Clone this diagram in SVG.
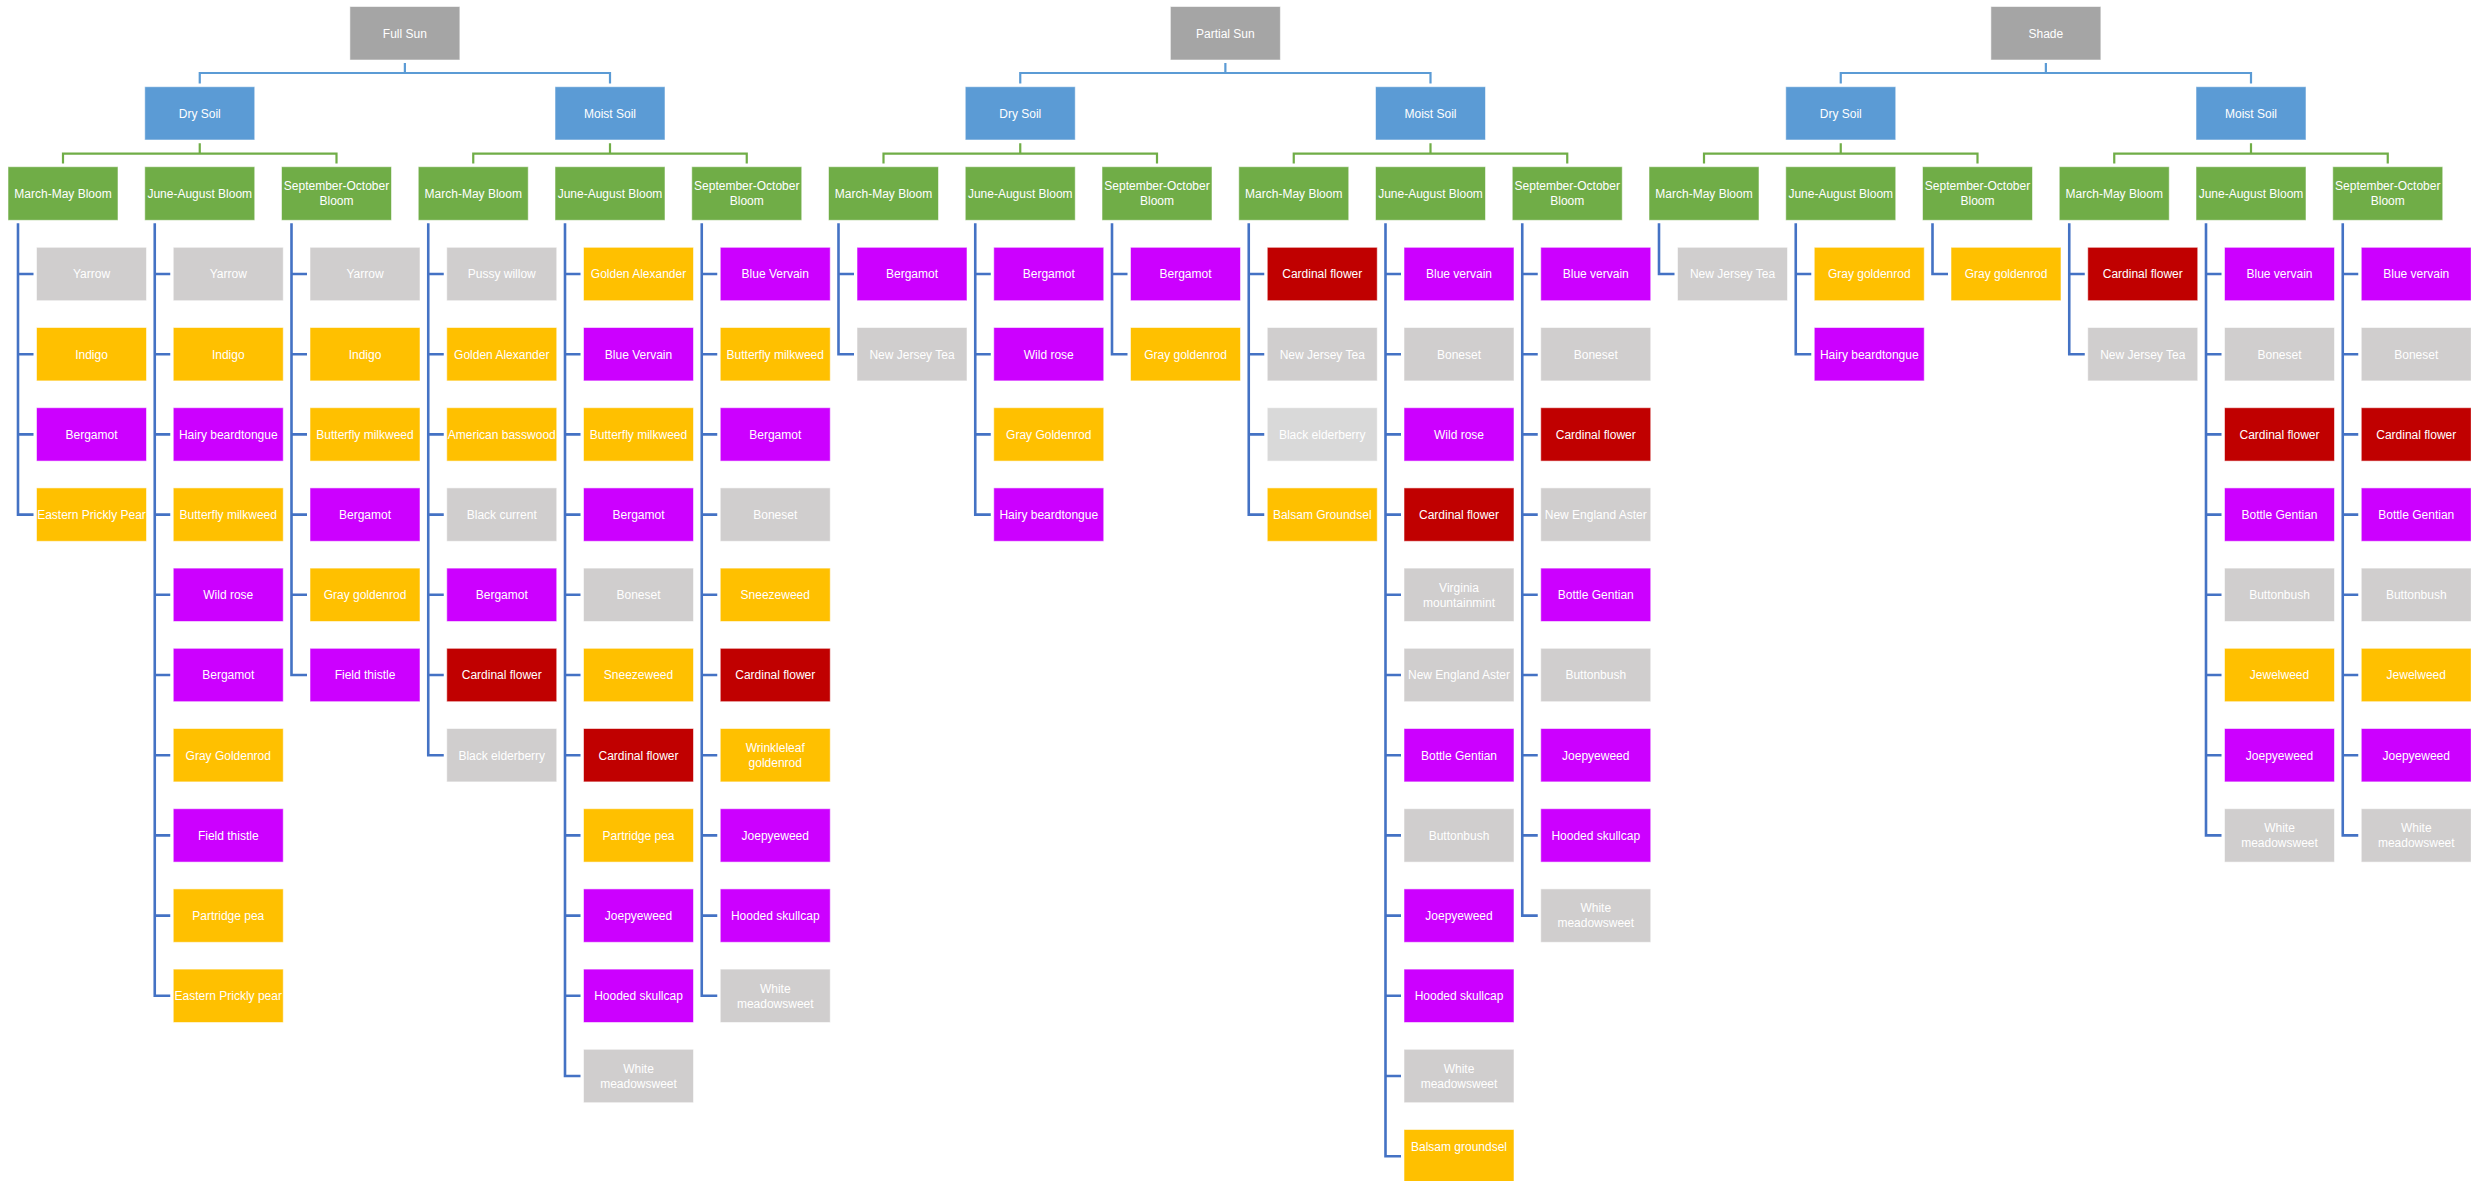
<svg xmlns="http://www.w3.org/2000/svg" width="2471" height="1181" viewBox="0 0 2471 1181">
<style>
rect{stroke:#ffffff;stroke-opacity:.55;stroke-width:1}
text{font-family:"Liberation Sans",Arial,sans-serif;font-size:12px;fill:#ffffff;text-anchor:middle}
.top{fill:#A5A5A5}.soil{fill:#5B9BD5}.bloom{fill:#70AD47}
.g{fill:#D0CECE}.lg{fill:#D9D9D9}.y{fill:#FFC000}.p{fill:#CC00FF}.r{fill:#C00000}
.c1{fill:none;stroke:#5B9BD5;stroke-width:2.2}
.c2{fill:none;stroke:#70AD47;stroke-width:2.2}
.c3{fill:none;stroke:#4472C4;stroke-width:2.6}
</style>
<rect width="2471" height="1181" fill="#ffffff" stroke="none"/>
<g id="connectors">
<path class="c1" d="M404.875,63V73M199.75,83.5V73H610V83.5"/>
<path class="c1" d="M1225.375,63V73M1020.25,83.5V73H1430.5V83.5"/>
<path class="c1" d="M2045.875,63V73M1840.75,83.5V73H2251V83.5"/>
<path class="c2" d="M199.75,143.3V153.7M63,163.5V153.7H336.5V163.5"/>
<path class="c2" d="M610,143.3V153.7M473.25,163.5V153.7H746.75V163.5"/>
<path class="c2" d="M1020.25,143.3V153.7M883.5,163.5V153.7H1157V163.5"/>
<path class="c2" d="M1430.5,143.3V153.7M1293.75,163.5V153.7H1567.25V163.5"/>
<path class="c2" d="M1840.75,143.3V153.7M1704,163.5V153.7H1977.5V163.5"/>
<path class="c2" d="M2251,143.3V153.7M2114.25,163.5V153.7H2387.75V163.5"/>
<path class="c3" d="M18,223.3V514.6h15.5M18,274h15.5M18,354.2h15.5M18,434.4h15.5"/>
<path class="c3" d="M154.75,223.3V995.8h15.5M154.75,274h15.5M154.75,354.2h15.5M154.75,434.4h15.5M154.75,514.6h15.5M154.75,594.8h15.5M154.75,675h15.5M154.75,755.2h15.5M154.75,835.4h15.5M154.75,915.6h15.5"/>
<path class="c3" d="M291.5,223.3V675h15.5M291.5,274h15.5M291.5,354.2h15.5M291.5,434.4h15.5M291.5,514.6h15.5M291.5,594.8h15.5"/>
<path class="c3" d="M428.25,223.3V755.2h15.5M428.25,274h15.5M428.25,354.2h15.5M428.25,434.4h15.5M428.25,514.6h15.5M428.25,594.8h15.5M428.25,675h15.5"/>
<path class="c3" d="M565,223.3V1076h15.5M565,274h15.5M565,354.2h15.5M565,434.4h15.5M565,514.6h15.5M565,594.8h15.5M565,675h15.5M565,755.2h15.5M565,835.4h15.5M565,915.6h15.5M565,995.8h15.5"/>
<path class="c3" d="M701.75,223.3V995.8h15.5M701.75,274h15.5M701.75,354.2h15.5M701.75,434.4h15.5M701.75,514.6h15.5M701.75,594.8h15.5M701.75,675h15.5M701.75,755.2h15.5M701.75,835.4h15.5M701.75,915.6h15.5"/>
<path class="c3" d="M838.5,223.3V354.2h15.5M838.5,274h15.5"/>
<path class="c3" d="M975.25,223.3V514.6h15.5M975.25,274h15.5M975.25,354.2h15.5M975.25,434.4h15.5"/>
<path class="c3" d="M1112,223.3V354.2h15.5M1112,274h15.5"/>
<path class="c3" d="M1248.75,223.3V514.6h15.5M1248.75,274h15.5M1248.75,354.2h15.5M1248.75,434.4h15.5"/>
<path class="c3" d="M1385.5,223.3V1156.2h15.5M1385.5,274h15.5M1385.5,354.2h15.5M1385.5,434.4h15.5M1385.5,514.6h15.5M1385.5,594.8h15.5M1385.5,675h15.5M1385.5,755.2h15.5M1385.5,835.4h15.5M1385.5,915.6h15.5M1385.5,995.8h15.5M1385.5,1076h15.5"/>
<path class="c3" d="M1522.25,223.3V915.6h15.5M1522.25,274h15.5M1522.25,354.2h15.5M1522.25,434.4h15.5M1522.25,514.6h15.5M1522.25,594.8h15.5M1522.25,675h15.5M1522.25,755.2h15.5M1522.25,835.4h15.5"/>
<path class="c3" d="M1659,223.3V274h15.5"/>
<path class="c3" d="M1795.75,223.3V354.2h15.5M1795.75,274h15.5"/>
<path class="c3" d="M1932.5,223.3V274h15.5"/>
<path class="c3" d="M2069.25,223.3V354.2h15.5M2069.25,274h15.5"/>
<path class="c3" d="M2206,223.3V835.4h15.5M2206,274h15.5M2206,354.2h15.5M2206,434.4h15.5M2206,514.6h15.5M2206,594.8h15.5M2206,675h15.5M2206,755.2h15.5"/>
<path class="c3" d="M2342.75,223.3V835.4h15.5M2342.75,274h15.5M2342.75,354.2h15.5M2342.75,434.4h15.5M2342.75,514.6h15.5M2342.75,594.8h15.5M2342.75,675h15.5M2342.75,755.2h15.5"/>
</g>

<g id="full-sun" transform="translate(349.875,6.5)"><rect class="top" width="110" height="53.5"/><text x="55" y="31">Full Sun</text></g>
<g id="partial-sun" transform="translate(1170.375,6.5)"><rect class="top" width="110" height="53.5"/><text x="55" y="31">Partial Sun</text></g>
<g id="shade" transform="translate(1990.875,6.5)"><rect class="top" width="110" height="53.5"/><text x="55" y="31">Shade</text></g>

<g id="fs-dry" transform="translate(144.75,86.7)"><rect class="soil" width="110" height="53.3"/><text x="55" y="31">Dry Soil</text></g>
<g id="fs-moist" transform="translate(555,86.7)"><rect class="soil" width="110" height="53.3"/><text x="55" y="31">Moist Soil</text></g>
<g id="ps-dry" transform="translate(965.25,86.7)"><rect class="soil" width="110" height="53.3"/><text x="55" y="31">Dry Soil</text></g>
<g id="ps-moist" transform="translate(1375.5,86.7)"><rect class="soil" width="110" height="53.3"/><text x="55" y="31">Moist Soil</text></g>
<g id="sh-dry" transform="translate(1785.75,86.7)"><rect class="soil" width="110" height="53.3"/><text x="55" y="31">Dry Soil</text></g>
<g id="sh-moist" transform="translate(2196,86.7)"><rect class="soil" width="110" height="53.3"/><text x="55" y="31">Moist Soil</text></g>

<g id="b0" transform="translate(8,166.7)"><rect class="bloom" width="110" height="53.6"/><text x="55" y="31">March-May Bloom</text></g>
<g id="b1" transform="translate(144.75,166.7)"><rect class="bloom" width="110" height="53.6"/><text x="55" y="31">June-August Bloom</text></g>
<g id="b2" transform="translate(281.5,166.7)"><rect class="bloom" width="110" height="53.6"/><text x="55" y="23.5"><tspan x="55">September-October</tspan><tspan x="55" dy="15">Bloom</tspan></text></g>
<g id="b3" transform="translate(418.25,166.7)"><rect class="bloom" width="110" height="53.6"/><text x="55" y="31">March-May Bloom</text></g>
<g id="b4" transform="translate(555,166.7)"><rect class="bloom" width="110" height="53.6"/><text x="55" y="31">June-August Bloom</text></g>
<g id="b5" transform="translate(691.75,166.7)"><rect class="bloom" width="110" height="53.6"/><text x="55" y="23.5"><tspan x="55">September-October</tspan><tspan x="55" dy="15">Bloom</tspan></text></g>
<g id="b6" transform="translate(828.5,166.7)"><rect class="bloom" width="110" height="53.6"/><text x="55" y="31">March-May Bloom</text></g>
<g id="b7" transform="translate(965.25,166.7)"><rect class="bloom" width="110" height="53.6"/><text x="55" y="31">June-August Bloom</text></g>
<g id="b8" transform="translate(1102,166.7)"><rect class="bloom" width="110" height="53.6"/><text x="55" y="23.5"><tspan x="55">September-October</tspan><tspan x="55" dy="15">Bloom</tspan></text></g>
<g id="b9" transform="translate(1238.75,166.7)"><rect class="bloom" width="110" height="53.6"/><text x="55" y="31">March-May Bloom</text></g>
<g id="b10" transform="translate(1375.5,166.7)"><rect class="bloom" width="110" height="53.6"/><text x="55" y="31">June-August Bloom</text></g>
<g id="b11" transform="translate(1512.25,166.7)"><rect class="bloom" width="110" height="53.6"/><text x="55" y="23.5"><tspan x="55">September-October</tspan><tspan x="55" dy="15">Bloom</tspan></text></g>
<g id="b12" transform="translate(1649,166.7)"><rect class="bloom" width="110" height="53.6"/><text x="55" y="31">March-May Bloom</text></g>
<g id="b13" transform="translate(1785.75,166.7)"><rect class="bloom" width="110" height="53.6"/><text x="55" y="31">June-August Bloom</text></g>
<g id="b14" transform="translate(1922.5,166.7)"><rect class="bloom" width="110" height="53.6"/><text x="55" y="23.5"><tspan x="55">September-October</tspan><tspan x="55" dy="15">Bloom</tspan></text></g>
<g id="b15" transform="translate(2059.25,166.7)"><rect class="bloom" width="110" height="53.6"/><text x="55" y="31">March-May Bloom</text></g>
<g id="b16" transform="translate(2196,166.7)"><rect class="bloom" width="110" height="53.6"/><text x="55" y="31">June-August Bloom</text></g>
<g id="b17" transform="translate(2332.75,166.7)"><rect class="bloom" width="110" height="53.6"/><text x="55" y="23.5"><tspan x="55">September-October</tspan><tspan x="55" dy="15">Bloom</tspan></text></g>

<!-- column 0 -->
<g id="c0-0" transform="translate(36.5,247.3)"><rect class="g" width="110" height="53.4"/><text x="55" y="31">Yarrow</text></g>
<g id="c0-1" transform="translate(36.5,327.5)"><rect class="y" width="110" height="53.4"/><text x="55" y="31">Indigo</text></g>
<g id="c0-2" transform="translate(36.5,407.7)"><rect class="p" width="110" height="53.4"/><text x="55" y="31">Bergamot</text></g>
<g id="c0-3" transform="translate(36.5,487.9)"><rect class="y" width="110" height="53.4"/><text x="55" y="31">Eastern Prickly Pear</text></g>
<!-- column 1 -->
<g id="c1-0" transform="translate(173.25,247.3)"><rect class="g" width="110" height="53.4"/><text x="55" y="31">Yarrow</text></g>
<g id="c1-1" transform="translate(173.25,327.5)"><rect class="y" width="110" height="53.4"/><text x="55" y="31">Indigo</text></g>
<g id="c1-2" transform="translate(173.25,407.7)"><rect class="p" width="110" height="53.4"/><text x="55" y="31">Hairy beardtongue</text></g>
<g id="c1-3" transform="translate(173.25,487.9)"><rect class="y" width="110" height="53.4"/><text x="55" y="31">Butterfly milkweed</text></g>
<g id="c1-4" transform="translate(173.25,568.1)"><rect class="p" width="110" height="53.4"/><text x="55" y="31">Wild rose</text></g>
<g id="c1-5" transform="translate(173.25,648.3)"><rect class="p" width="110" height="53.4"/><text x="55" y="31">Bergamot</text></g>
<g id="c1-6" transform="translate(173.25,728.5)"><rect class="y" width="110" height="53.4"/><text x="55" y="31">Gray Goldenrod</text></g>
<g id="c1-7" transform="translate(173.25,808.7)"><rect class="p" width="110" height="53.4"/><text x="55" y="31">Field thistle</text></g>
<g id="c1-8" transform="translate(173.25,888.9)"><rect class="y" width="110" height="53.4"/><text x="55" y="31">Partridge pea</text></g>
<g id="c1-9" transform="translate(173.25,969.1)"><rect class="y" width="110" height="53.4"/><text x="55" y="31">Eastern Prickly pear</text></g>
<!-- column 2 -->
<g id="c2-0" transform="translate(310,247.3)"><rect class="g" width="110" height="53.4"/><text x="55" y="31">Yarrow</text></g>
<g id="c2-1" transform="translate(310,327.5)"><rect class="y" width="110" height="53.4"/><text x="55" y="31">Indigo</text></g>
<g id="c2-2" transform="translate(310,407.7)"><rect class="y" width="110" height="53.4"/><text x="55" y="31">Butterfly milkweed</text></g>
<g id="c2-3" transform="translate(310,487.9)"><rect class="p" width="110" height="53.4"/><text x="55" y="31">Bergamot</text></g>
<g id="c2-4" transform="translate(310,568.1)"><rect class="y" width="110" height="53.4"/><text x="55" y="31">Gray goldenrod</text></g>
<g id="c2-5" transform="translate(310,648.3)"><rect class="p" width="110" height="53.4"/><text x="55" y="31">Field thistle</text></g>
<!-- column 3 -->
<g id="c3-0" transform="translate(446.75,247.3)"><rect class="g" width="110" height="53.4"/><text x="55" y="31">Pussy willow</text></g>
<g id="c3-1" transform="translate(446.75,327.5)"><rect class="y" width="110" height="53.4"/><text x="55" y="31">Golden Alexander</text></g>
<g id="c3-2" transform="translate(446.75,407.7)"><rect class="y" width="110" height="53.4"/><text x="55" y="31">American basswood</text></g>
<g id="c3-3" transform="translate(446.75,487.9)"><rect class="g" width="110" height="53.4"/><text x="55" y="31">Black current</text></g>
<g id="c3-4" transform="translate(446.75,568.1)"><rect class="p" width="110" height="53.4"/><text x="55" y="31">Bergamot</text></g>
<g id="c3-5" transform="translate(446.75,648.3)"><rect class="r" width="110" height="53.4"/><text x="55" y="31">Cardinal flower</text></g>
<g id="c3-6" transform="translate(446.75,728.5)"><rect class="g" width="110" height="53.4"/><text x="55" y="31">Black elderberry</text></g>
<!-- column 4 -->
<g id="c4-0" transform="translate(583.5,247.3)"><rect class="y" width="110" height="53.4"/><text x="55" y="31">Golden Alexander</text></g>
<g id="c4-1" transform="translate(583.5,327.5)"><rect class="p" width="110" height="53.4"/><text x="55" y="31">Blue Vervain</text></g>
<g id="c4-2" transform="translate(583.5,407.7)"><rect class="y" width="110" height="53.4"/><text x="55" y="31">Butterfly milkweed</text></g>
<g id="c4-3" transform="translate(583.5,487.9)"><rect class="p" width="110" height="53.4"/><text x="55" y="31">Bergamot</text></g>
<g id="c4-4" transform="translate(583.5,568.1)"><rect class="g" width="110" height="53.4"/><text x="55" y="31">Boneset</text></g>
<g id="c4-5" transform="translate(583.5,648.3)"><rect class="y" width="110" height="53.4"/><text x="55" y="31">Sneezeweed</text></g>
<g id="c4-6" transform="translate(583.5,728.5)"><rect class="r" width="110" height="53.4"/><text x="55" y="31">Cardinal flower</text></g>
<g id="c4-7" transform="translate(583.5,808.7)"><rect class="y" width="110" height="53.4"/><text x="55" y="31">Partridge pea</text></g>
<g id="c4-8" transform="translate(583.5,888.9)"><rect class="p" width="110" height="53.4"/><text x="55" y="31">Joepyeweed</text></g>
<g id="c4-9" transform="translate(583.5,969.1)"><rect class="p" width="110" height="53.4"/><text x="55" y="31">Hooded skullcap</text></g>
<g id="c4-10" transform="translate(583.5,1049.3)"><rect class="g" width="110" height="53.4"/><text x="55" y="23.5"><tspan x="55">White</tspan><tspan x="55" dy="15">meadowsweet</tspan></text></g>
<!-- column 5 -->
<g id="c5-0" transform="translate(720.25,247.3)"><rect class="p" width="110" height="53.4"/><text x="55" y="31">Blue Vervain</text></g>
<g id="c5-1" transform="translate(720.25,327.5)"><rect class="y" width="110" height="53.4"/><text x="55" y="31">Butterfly milkweed</text></g>
<g id="c5-2" transform="translate(720.25,407.7)"><rect class="p" width="110" height="53.4"/><text x="55" y="31">Bergamot</text></g>
<g id="c5-3" transform="translate(720.25,487.9)"><rect class="g" width="110" height="53.4"/><text x="55" y="31">Boneset</text></g>
<g id="c5-4" transform="translate(720.25,568.1)"><rect class="y" width="110" height="53.4"/><text x="55" y="31">Sneezeweed</text></g>
<g id="c5-5" transform="translate(720.25,648.3)"><rect class="r" width="110" height="53.4"/><text x="55" y="31">Cardinal flower</text></g>
<g id="c5-6" transform="translate(720.25,728.5)"><rect class="y" width="110" height="53.4"/><text x="55" y="23.5"><tspan x="55">Wrinkleleaf</tspan><tspan x="55" dy="15">goldenrod</tspan></text></g>
<g id="c5-7" transform="translate(720.25,808.7)"><rect class="p" width="110" height="53.4"/><text x="55" y="31">Joepyeweed</text></g>
<g id="c5-8" transform="translate(720.25,888.9)"><rect class="p" width="110" height="53.4"/><text x="55" y="31">Hooded skullcap</text></g>
<g id="c5-9" transform="translate(720.25,969.1)"><rect class="g" width="110" height="53.4"/><text x="55" y="23.5"><tspan x="55">White</tspan><tspan x="55" dy="15">meadowsweet</tspan></text></g>
<!-- column 6 -->
<g id="c6-0" transform="translate(857,247.3)"><rect class="p" width="110" height="53.4"/><text x="55" y="31">Bergamot</text></g>
<g id="c6-1" transform="translate(857,327.5)"><rect class="g" width="110" height="53.4"/><text x="55" y="31">New Jersey Tea</text></g>
<!-- column 7 -->
<g id="c7-0" transform="translate(993.75,247.3)"><rect class="p" width="110" height="53.4"/><text x="55" y="31">Bergamot</text></g>
<g id="c7-1" transform="translate(993.75,327.5)"><rect class="p" width="110" height="53.4"/><text x="55" y="31">Wild rose</text></g>
<g id="c7-2" transform="translate(993.75,407.7)"><rect class="y" width="110" height="53.4"/><text x="55" y="31">Gray Goldenrod</text></g>
<g id="c7-3" transform="translate(993.75,487.9)"><rect class="p" width="110" height="53.4"/><text x="55" y="31">Hairy beardtongue</text></g>
<!-- column 8 -->
<g id="c8-0" transform="translate(1130.5,247.3)"><rect class="p" width="110" height="53.4"/><text x="55" y="31">Bergamot</text></g>
<g id="c8-1" transform="translate(1130.5,327.5)"><rect class="y" width="110" height="53.4"/><text x="55" y="31">Gray goldenrod</text></g>
<!-- column 9 -->
<g id="c9-0" transform="translate(1267.25,247.3)"><rect class="r" width="110" height="53.4"/><text x="55" y="31">Cardinal flower</text></g>
<g id="c9-1" transform="translate(1267.25,327.5)"><rect class="g" width="110" height="53.4"/><text x="55" y="31">New Jersey Tea</text></g>
<g id="c9-2" transform="translate(1267.25,407.7)"><rect class="lg" width="110" height="53.4"/><text x="55" y="31">Black elderberry</text></g>
<g id="c9-3" transform="translate(1267.25,487.9)"><rect class="y" width="110" height="53.4"/><text x="55" y="31">Balsam Groundsel</text></g>
<!-- column 10 -->
<g id="c10-0" transform="translate(1404,247.3)"><rect class="p" width="110" height="53.4"/><text x="55" y="31">Blue vervain</text></g>
<g id="c10-1" transform="translate(1404,327.5)"><rect class="g" width="110" height="53.4"/><text x="55" y="31">Boneset</text></g>
<g id="c10-2" transform="translate(1404,407.7)"><rect class="p" width="110" height="53.4"/><text x="55" y="31">Wild rose</text></g>
<g id="c10-3" transform="translate(1404,487.9)"><rect class="r" width="110" height="53.4"/><text x="55" y="31">Cardinal flower</text></g>
<g id="c10-4" transform="translate(1404,568.1)"><rect class="g" width="110" height="53.4"/><text x="55" y="23.5"><tspan x="55">Virginia</tspan><tspan x="55" dy="15">mountainmint</tspan></text></g>
<g id="c10-5" transform="translate(1404,648.3)"><rect class="g" width="110" height="53.4"/><text x="55" y="31">New England Aster</text></g>
<g id="c10-6" transform="translate(1404,728.5)"><rect class="p" width="110" height="53.4"/><text x="55" y="31">Bottle Gentian</text></g>
<g id="c10-7" transform="translate(1404,808.7)"><rect class="g" width="110" height="53.4"/><text x="55" y="31">Buttonbush</text></g>
<g id="c10-8" transform="translate(1404,888.9)"><rect class="p" width="110" height="53.4"/><text x="55" y="31">Joepyeweed</text></g>
<g id="c10-9" transform="translate(1404,969.1)"><rect class="p" width="110" height="53.4"/><text x="55" y="31">Hooded skullcap</text></g>
<g id="c10-10" transform="translate(1404,1049.3)"><rect class="g" width="110" height="53.4"/><text x="55" y="23.5"><tspan x="55">White</tspan><tspan x="55" dy="15">meadowsweet</tspan></text></g>
<g id="c10-11" transform="translate(1404,1129.5)"><rect class="y" width="110" height="53.4"/><text x="55" y="21.5">Balsam groundsel</text></g>
<!-- column 11 -->
<g id="c11-0" transform="translate(1540.75,247.3)"><rect class="p" width="110" height="53.4"/><text x="55" y="31">Blue vervain</text></g>
<g id="c11-1" transform="translate(1540.75,327.5)"><rect class="g" width="110" height="53.4"/><text x="55" y="31">Boneset</text></g>
<g id="c11-2" transform="translate(1540.75,407.7)"><rect class="r" width="110" height="53.4"/><text x="55" y="31">Cardinal flower</text></g>
<g id="c11-3" transform="translate(1540.75,487.9)"><rect class="g" width="110" height="53.4"/><text x="55" y="31">New England Aster</text></g>
<g id="c11-4" transform="translate(1540.75,568.1)"><rect class="p" width="110" height="53.4"/><text x="55" y="31">Bottle Gentian</text></g>
<g id="c11-5" transform="translate(1540.75,648.3)"><rect class="g" width="110" height="53.4"/><text x="55" y="31">Buttonbush</text></g>
<g id="c11-6" transform="translate(1540.75,728.5)"><rect class="p" width="110" height="53.4"/><text x="55" y="31">Joepyeweed</text></g>
<g id="c11-7" transform="translate(1540.75,808.7)"><rect class="p" width="110" height="53.4"/><text x="55" y="31">Hooded skullcap</text></g>
<g id="c11-8" transform="translate(1540.75,888.9)"><rect class="g" width="110" height="53.4"/><text x="55" y="23.5"><tspan x="55">White</tspan><tspan x="55" dy="15">meadowsweet</tspan></text></g>
<!-- column 12 -->
<g id="c12-0" transform="translate(1677.5,247.3)"><rect class="g" width="110" height="53.4"/><text x="55" y="31">New Jersey Tea</text></g>
<!-- column 13 -->
<g id="c13-0" transform="translate(1814.25,247.3)"><rect class="y" width="110" height="53.4"/><text x="55" y="31">Gray goldenrod</text></g>
<g id="c13-1" transform="translate(1814.25,327.5)"><rect class="p" width="110" height="53.4"/><text x="55" y="31">Hairy beardtongue</text></g>
<!-- column 14 -->
<g id="c14-0" transform="translate(1951,247.3)"><rect class="y" width="110" height="53.4"/><text x="55" y="31">Gray goldenrod</text></g>
<!-- column 15 -->
<g id="c15-0" transform="translate(2087.75,247.3)"><rect class="r" width="110" height="53.4"/><text x="55" y="31">Cardinal flower</text></g>
<g id="c15-1" transform="translate(2087.75,327.5)"><rect class="g" width="110" height="53.4"/><text x="55" y="31">New Jersey Tea</text></g>
<!-- column 16 -->
<g id="c16-0" transform="translate(2224.5,247.3)"><rect class="p" width="110" height="53.4"/><text x="55" y="31">Blue vervain</text></g>
<g id="c16-1" transform="translate(2224.5,327.5)"><rect class="g" width="110" height="53.4"/><text x="55" y="31">Boneset</text></g>
<g id="c16-2" transform="translate(2224.5,407.7)"><rect class="r" width="110" height="53.4"/><text x="55" y="31">Cardinal flower</text></g>
<g id="c16-3" transform="translate(2224.5,487.9)"><rect class="p" width="110" height="53.4"/><text x="55" y="31">Bottle Gentian</text></g>
<g id="c16-4" transform="translate(2224.5,568.1)"><rect class="g" width="110" height="53.4"/><text x="55" y="31">Buttonbush</text></g>
<g id="c16-5" transform="translate(2224.5,648.3)"><rect class="y" width="110" height="53.4"/><text x="55" y="31">Jewelweed</text></g>
<g id="c16-6" transform="translate(2224.5,728.5)"><rect class="p" width="110" height="53.4"/><text x="55" y="31">Joepyeweed</text></g>
<g id="c16-7" transform="translate(2224.5,808.7)"><rect class="g" width="110" height="53.4"/><text x="55" y="23.5"><tspan x="55">White</tspan><tspan x="55" dy="15">meadowsweet</tspan></text></g>
<!-- column 17 -->
<g id="c17-0" transform="translate(2361.25,247.3)"><rect class="p" width="110" height="53.4"/><text x="55" y="31">Blue vervain</text></g>
<g id="c17-1" transform="translate(2361.25,327.5)"><rect class="g" width="110" height="53.4"/><text x="55" y="31">Boneset</text></g>
<g id="c17-2" transform="translate(2361.25,407.7)"><rect class="r" width="110" height="53.4"/><text x="55" y="31">Cardinal flower</text></g>
<g id="c17-3" transform="translate(2361.25,487.9)"><rect class="p" width="110" height="53.4"/><text x="55" y="31">Bottle Gentian</text></g>
<g id="c17-4" transform="translate(2361.25,568.1)"><rect class="g" width="110" height="53.4"/><text x="55" y="31">Buttonbush</text></g>
<g id="c17-5" transform="translate(2361.25,648.3)"><rect class="y" width="110" height="53.4"/><text x="55" y="31">Jewelweed</text></g>
<g id="c17-6" transform="translate(2361.25,728.5)"><rect class="p" width="110" height="53.4"/><text x="55" y="31">Joepyeweed</text></g>
<g id="c17-7" transform="translate(2361.25,808.7)"><rect class="g" width="110" height="53.4"/><text x="55" y="23.5"><tspan x="55">White</tspan><tspan x="55" dy="15">meadowsweet</tspan></text></g>
</svg>
